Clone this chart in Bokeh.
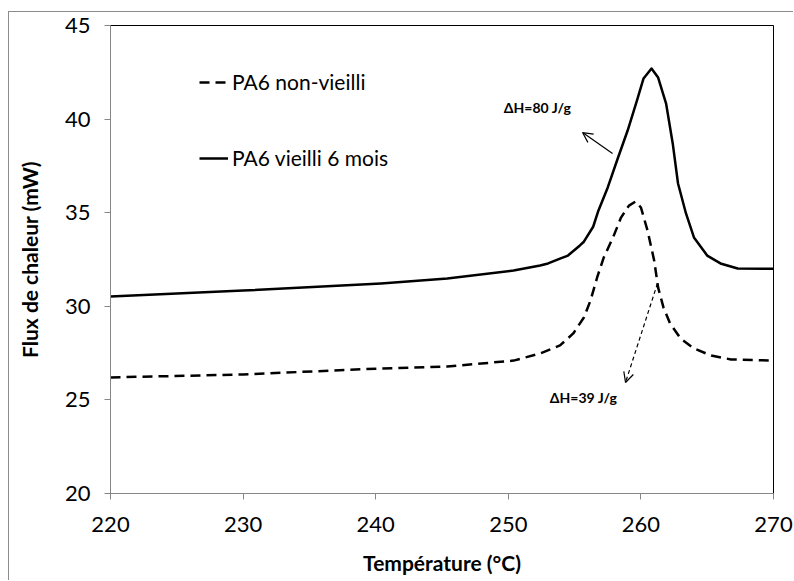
from bokeh.plotting import figure
from bokeh.models import (Range1d, Legend, LegendItem, Label, Arrow, OpenHead,
                          FixedTicker, ColumnDataSource)
from bokeh.embed import file_html
from bokeh.resources import INLINE

# ---- data ----
temp_aged = [220, 230, 240.4, 245.4, 250.4, 252.4, 253.0, 253.9, 254.5, 255.4, 255.7,
             256.4, 256.8, 257.5, 258.2, 259.0, 259.7, 260.2, 260.8, 261.3, 261.9,
             262.4, 262.8, 263.4, 264.0, 265.0, 266.0, 267.3, 270]
flux_aged = [30.52, 30.84, 31.22, 31.48, 31.91, 32.18, 32.29, 32.55, 32.71, 33.25, 33.45,
             34.25, 35.12, 36.35, 37.79, 39.39, 40.99, 42.17, 42.70, 42.22, 40.83,
             38.70, 36.56, 34.96, 33.68, 32.71, 32.29, 32.02, 32.0]

temp_new = [220, 230, 240.4, 245.4, 250.4, 252.4, 253.9, 254.9, 255.7, 256.2, 256.7,
            257.2, 257.9, 258.5, 259.1, 259.6, 260.0, 260.5, 261.0, 261.3, 261.7,
            262.2, 263.0, 264.0, 265.3, 266.8, 270]
flux_new = [26.2, 26.36, 26.68, 26.78, 27.10, 27.48, 27.91, 28.55, 29.40, 30.31, 31.54,
            32.61, 33.68, 34.74, 35.38, 35.60, 35.28, 34.05, 32.45, 31.0, 29.94,
            29.08, 28.28, 27.75, 27.37, 27.16, 27.1]

series_names = ["PA6 non-vieilli", "PA6 vieilli 6 mois"]
x_ticks = [220, 230, 240, 250, 260, 270]
y_ticks = [20, 25, 30, 35, 40, 45]
x_title = "Température (°C)"
y_title = "Flux de chaleur (mW)"
dh_texts = ["ΔH=80 J/g", "ΔH=39 J/g"]

FONT = "Lato"

p = figure(width=785, height=569, output_backend="svg", toolbar_location=None,
           x_range=Range1d(220, 270), y_range=Range1d(20, 45),
           min_border_left=101, min_border_right=21, min_border_top=13,
           min_border_bottom=88, margin=(11, 0, 0, 8),
           styles={"border-left": "1px solid #8c8c8c", "border-top": "1px solid #8c8c8c"})

p.outline_line_color = "black"
p.outline_line_width = 1
p.xgrid.visible = False
p.ygrid.visible = False

for ax in (p.xaxis[0], p.yaxis[0]):
    ax.axis_line_color = "#868686"
    ax.major_tick_line_color = "#868686"
    ax.major_tick_out = 6
    ax.major_tick_in = 0
    ax.minor_tick_line_color = None
    ax.major_label_text_font = FONT
    ax.major_label_text_font_size = "22px"
    ax.major_label_text_color = "black"
    ax.axis_label_text_font = FONT
    ax.axis_label_text_font_style = "bold"
    ax.axis_label_text_font_size = "21px"
    ax.axis_label_text_color = "black"

p.xaxis.ticker = FixedTicker(ticks=x_ticks)
p.yaxis.ticker = FixedTicker(ticks=y_ticks)
p.xaxis.major_label_standoff = 17
p.yaxis.major_label_standoff = 14
p.xaxis.axis_label = x_title
p.xaxis.axis_label_standoff = 15
p.yaxis.axis_label = y_title
p.yaxis.axis_label_standoff = 20

src_new = ColumnDataSource(dict(x=temp_new, y=flux_new))
src_aged = ColumnDataSource(dict(x=temp_aged, y=flux_aged))
r_new = p.line("x", "y", source=src_new, line_color="black", line_width=2.5,
               line_dash="10 6", line_join="round")
r_aged = p.line("x", "y", source=src_aged, line_color="black", line_width=2.5,
                line_join="round")

legend = Legend(items=[LegendItem(label=series_names[0], renderers=[r_new]),
                       LegendItem(label=series_names[1], renderers=[r_aged])],
                location=(89, 323), margin=0, padding=0, spacing=51,
                glyph_width=29, glyph_height=20, label_height=20, label_standoff=4,
                border_line_color=None, background_fill_alpha=0,
                label_text_font=FONT, label_text_font_size="21px",
                label_text_color="black")
p.add_layout(legend, "center")

# annotations
p.add_layout(Label(x=252.2, y=40.62, text=dh_texts[0], text_align="center",
                   text_baseline="middle", text_font=FONT, text_font_style="bold",
                   text_font_size="14px", text_color="black"))
p.add_layout(Label(x=255.67, y=25.13, text=dh_texts[1], text_align="center",
                   text_baseline="middle", text_font=FONT, text_font_style="bold",
                   text_font_size="14px", text_color="black"))
p.add_layout(Arrow(x_start=257.86, y_start=38.16, x_end=255.6, y_end=39.28,
                   line_color="black", line_width=1.2,
                   end=OpenHead(size=10, line_color="black", line_width=1.2)))
p.add_layout(Arrow(x_start=261.25, y_start=31.22, x_end=258.84, y_end=25.93,
                   line_color="black", line_width=1.2, line_dash="4 3",
                   end=OpenHead(size=10, line_color="black", line_width=1.2)))

open("out.html", "w").write(file_html(p, INLINE))
